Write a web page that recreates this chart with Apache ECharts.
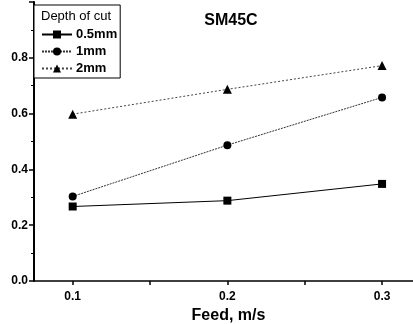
<!DOCTYPE html>
<html>
<head>
<meta charset="utf-8">
<script src="https://cdn.jsdelivr.net/npm/echarts@6/dist/echarts.min.js"></script>
<style>html,body{margin:0;padding:0;background:#fff}#c{width:413px;height:324px}</style>
</head>
<body>
<div id="c"></div>
<script>
var feed = [0.1, 0.2, 0.3];
var cut05 = [0.267, 0.288, 0.348];
var cut1 = [0.303, 0.487, 0.658];
var cut2 = [0.598, 0.687, 0.772];
var xTickLabels = [0.1, 0.2, 0.3];
var xMinorTicks = [0.1, 0.15, 0.2, 0.25, 0.3];
var seriesNames = ['0.5mm', '1mm', '2mm'];

function pairs(xs, ys) { return xs.map(function (x, i) { return [x, ys[i]]; }); }

var chart = echarts.init(document.getElementById('c'), null, {renderer: 'canvas'});
var font = 'Liberation Sans, Arial, sans-serif';
chart.setOption({
  animation: false,
  backgroundColor: '#fff',
  title: {
    text: 'SM45C', left: 226, top: 8, textAlign: 'center',
    textStyle: {fontFamily: font, fontWeight: 'bold', fontSize: 16, color: '#000'}
  },
  grid: {left: 34, right: 0, top: 2, bottom: 43, containLabel: false, outerBoundsMode: 'none'},
  legend: {
    left: 34, top: 5, orient: 'vertical',
    padding: [23, 3, 3, 7], itemGap: 4, itemWidth: 30, itemHeight: 10,
    borderColor: '#000', borderWidth: 1, backgroundColor: '#fff',
    textStyle: {fontFamily: font, fontSize: 13, fontWeight: 'bold', color: '#000', padding: [0, 0, 0, -1]},
    data: seriesNames
  },
  graphic: [{
    type: 'text', left: 41, top: 10, z: 100,
    style: {text: 'Depth of cut', font: '13px ' + font, fill: '#000'}
  }],
  xAxis: {
    type: 'value', min: 0.075, max: 0.32,
    name: 'Feed, m/s', nameLocation: 'middle', nameGap: 24,
    nameTextStyle: {fontFamily: font, fontWeight: 'bold', fontSize: 16, color: '#000', padding: [0, 0, 0, 10]},
    axisLine: {show: true, onZero: false, lineStyle: {color: '#000', width: 1.5}},
    axisTick: {show: true, customValues: xMinorTicks, length: 4, lineStyle: {color: '#000', width: 1.5}},
    axisLabel: {customValues: xTickLabels, fontFamily: font, fontWeight: 'bold', fontSize: 12, color: '#000', margin: 10,
      formatter: function (v) { return v.toFixed(1); }},
    splitLine: {show: false}
  },
  yAxis: {
    type: 'value', min: 0, max: 1.0, interval: 0.2,
    axisLine: {show: true, lineStyle: {color: '#000', width: 2}},
    axisTick: {show: true, length: 5, lineStyle: {color: '#000', width: 1.5}},
    minorTick: {show: true, splitNumber: 2, length: 3, lineStyle: {color: '#000', width: 1}},
    axisLabel: {fontFamily: font, fontWeight: 'bold', fontSize: 12, color: '#000', margin: 6, showMaxLabel: false,
      formatter: function (v) { return v.toFixed(1); }},
    splitLine: {show: false}
  },
  series: [
    {name: seriesNames[0], type: 'line', data: pairs(feed, cut05), symbol: 'rect', symbolSize: 8,
      itemStyle: {color: '#000'}, lineStyle: {color: '#000', width: 1, type: 'solid'}},
    {name: seriesNames[1], type: 'line', data: pairs(feed, cut1), symbol: 'circle', symbolSize: 8,
      itemStyle: {color: '#000'}, lineStyle: {color: '#333', width: 1, type: [2, 1]}},
    {name: seriesNames[2], type: 'line', data: pairs(feed, cut2), symbol: 'triangle', symbolSize: 9,
      itemStyle: {color: '#000'}, lineStyle: {color: '#444', width: 1, type: [2, 2]}}
  ]
});
</script>
</body>
</html>
